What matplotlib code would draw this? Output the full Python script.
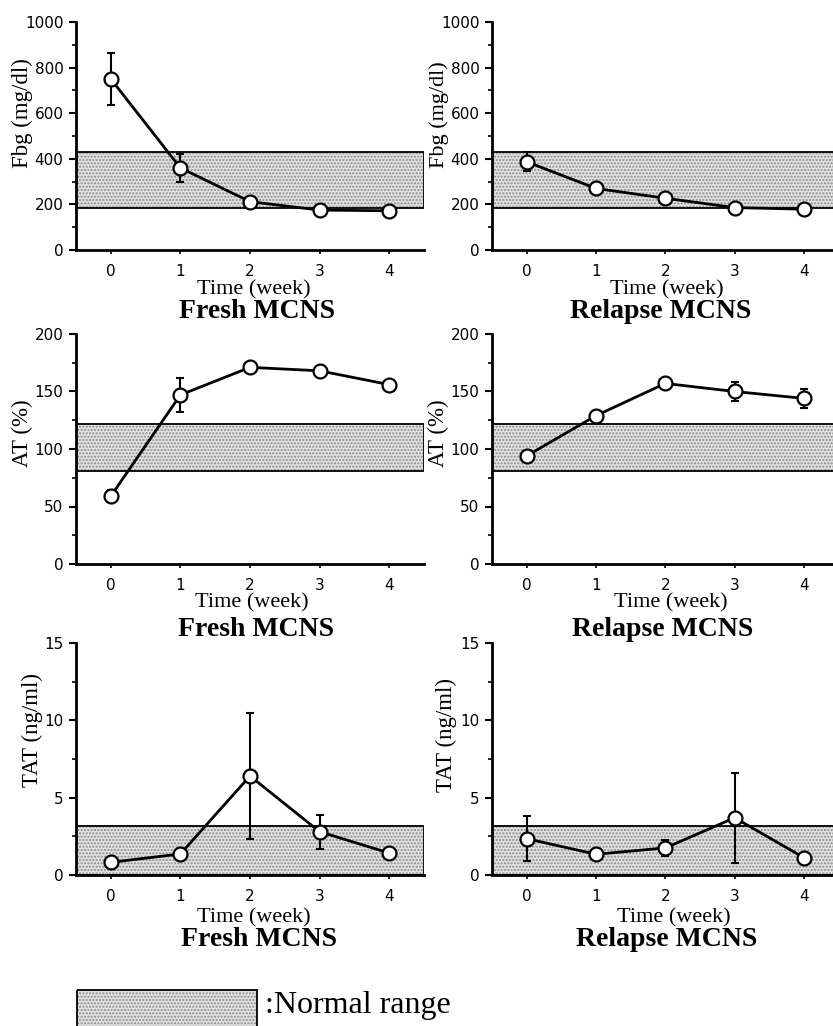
import matplotlib
matplotlib.use('Agg')
import matplotlib.pyplot as plt
from matplotlib.patches import Rectangle
from matplotlib.ticker import MultipleLocator

# 数据
weeks = [0, 1, 2, 3, 4]

fresh_fbg = [750, 360, 212, 175, 172]
fresh_fbg_err = [115, 63, 12, 8, 6]
relapse_fbg = [387, 270, 227, 186, 179]
relapse_fbg_err = [42, 10, 15, 8, 6]

fresh_at = [59, 147, 171, 168, 156]
fresh_at_err = [5, 14.5, 3, 4, 2]
relapse_at = [94, 129, 157, 150, 144]
relapse_at_err = [4, 2, 4, 8.5, 8]

fresh_tat = [0.82, 1.36, 6.4, 2.8, 1.42]
fresh_tat_err = [0.1, 0.1, 4.05, 1.1, 0.1]
relapse_tat = [2.35, 1.34, 1.75, 3.7, 1.12]
relapse_tat_err = [1.45, 0.1, 0.5, 2.9, 0.1]

fbg_normal = (186, 428)
at_normal = (81, 122)
tat_normal = (0, 3.15)

W, H = 833, 1026
fig = plt.figure(figsize=(W / 100, H / 100), dpi=100)
serif = 'Liberation Serif'


def px_axes(x0, x1, top, bottom):
    return [x0 / W, 1 - bottom / H, (x1 - x0) / W, (bottom - top) / H]


def panel(pos, y, yerr, normal, ymax, major, minor):
    ax = fig.add_axes(pos)
    # 正常范围（点状灰色带）
    ax.add_patch(Rectangle((-0.5, normal[0]), 5, normal[1] - normal[0],
                           facecolor='#e0e0e0', edgecolor='#8c8c8c', hatch='.....',
                           linewidth=0, zorder=1))
    ax.add_patch(Rectangle((-0.5, normal[0]), 5, normal[1] - normal[0],
                           facecolor='none', edgecolor='black', linewidth=1.3, zorder=2))
    ax.errorbar(weeks, y, yerr=yerr, fmt='none', ecolor='black', elinewidth=1.5,
                capsize=3, capthick=1.5, zorder=3)
    ax.plot(weeks, y, color='black', linewidth=2, marker='o', markersize=10,
            markerfacecolor='white', markeredgecolor='black', markeredgewidth=1.6, zorder=4)
    ax.set_xlim(-0.5, 4.5)
    ax.set_ylim(0, ymax)
    ax.set_xticks(weeks)
    ax.yaxis.set_major_locator(MultipleLocator(major))
    ax.yaxis.set_minor_locator(MultipleLocator(minor))
    for s in ['top', 'right']:
        ax.spines[s].set_visible(False)
    for s in ['left', 'bottom']:
        ax.spines[s].set_linewidth(2)
    ax.tick_params(axis='y', which='major', direction='out', length=5, width=1.5, pad=4,
                   labelsize=11)
    ax.tick_params(axis='y', which='minor', direction='out', length=3, width=1.2)
    ax.tick_params(axis='x', direction='out', length=3, width=1.2, pad=7, labelsize=11)
    return ax


def ftext(x, y, s, **kw):
    fig.text(x / W, 1 - y / H, s, ha='center', va='center', family=serif, **kw)


left_col = (76, 424)
right_col = (492, 838.6)
rows = [(22, 250), (334, 564), (643, 875)]

panel(px_axes(*left_col, *rows[0]), fresh_fbg, fresh_fbg_err, fbg_normal, 1000, 200, 100)
panel(px_axes(*right_col, *rows[0]), relapse_fbg, relapse_fbg_err, fbg_normal, 1000, 200, 100)
panel(px_axes(*left_col, *rows[1]), fresh_at, fresh_at_err, at_normal, 200, 50, 25)
panel(px_axes(*right_col, *rows[1]), relapse_at, relapse_at_err, at_normal, 200, 50, 25)
panel(px_axes(*left_col, *rows[2]), fresh_tat, fresh_tat_err, tat_normal, 15, 5, 2.5)
panel(px_axes(*right_col, *rows[2]), relapse_tat, relapse_tat_err, tat_normal, 15, 5, 2.5)

# y轴标签
ftext(22, 113, 'Fbg (mg/dl)', fontsize=16.5, rotation=90)
ftext(439, 115, 'Fbg (mg/dl)', fontsize=16, rotation=90)
ftext(22, 433, 'AT (%)', fontsize=16.5, rotation=90)
ftext(438, 433, 'AT (%)', fontsize=16.5, rotation=90)
ftext(32, 730, 'TAT (ng/ml)', fontsize=16.5, rotation=90)
ftext(446, 735, 'TAT (ng/ml)', fontsize=16.5, rotation=90)

# x轴标签和标题
time_pos = [(254, 290), (667, 290), (252, 603), (671, 603), (254, 918), (674, 918)]
title_pos = [(257, 312), (661, 312), (256, 630), (663, 630), (259, 940), (667, 940)]
titles = ['Fresh MCNS', 'Relapse MCNS'] * 3
for (tx, ty), (hx, hy), t in zip(time_pos, title_pos, titles):
    ftext(tx, ty, 'Time (week)', fontsize=16)
    ftext(hx, hy, t, fontsize=20, fontweight='bold')

# 图例
lax = fig.add_axes([0, 0, 1, 1], facecolor='none')
lax.set_xlim(0, W)
lax.set_ylim(H, 0)
lax.axis('off')
lax.add_patch(Rectangle((77, 990), 180, 50, facecolor='#e0e0e0', edgecolor='#8c8c8c',
                        hatch='.....', linewidth=0))
lax.add_patch(Rectangle((77, 990), 180, 50, facecolor='none', edgecolor='black', linewidth=1.3))
fig.text(265 / W, 1 - 1005 / H, ':Normal range', ha='left', va='center', family=serif,
         fontsize=23)

plt.savefig('out.png', dpi=100)
